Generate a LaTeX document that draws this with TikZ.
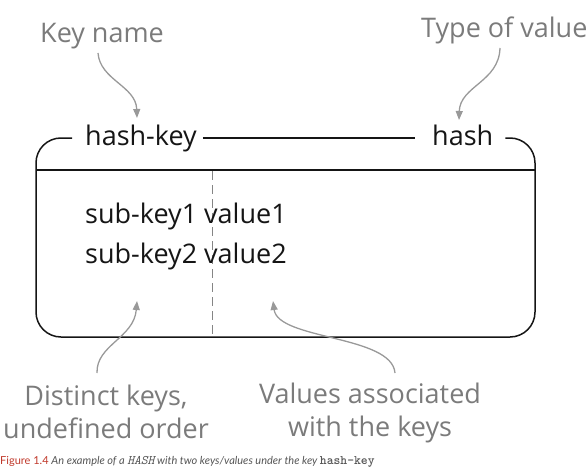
\documentclass[tikz,border=0pt]{standalone}
\usepackage{fontspec}
\setmainfont{Open Sans}
\newfontfamily\lato{Lato}
\usetikzlibrary{arrows.meta}
\definecolor{lbl}{HTML}{7B7B7B}
\definecolor{arr}{HTML}{999999}
\definecolor{ink}{HTML}{151515}
\definecolor{figred}{HTML}{C0392B}
\definecolor{capgray}{HTML}{555555}
\tikzset{
  main/.style={font=\fontsize{27}{33}\selectfont, text=ink, inner sep=0pt},
  note/.style={font=\fontsize{27}{33}\selectfont, text=lbl, inner sep=0pt, align=center},
  boxline/.style={draw=ink, line width=1.5pt},
  pointer/.style={draw=arr, line width=1.3pt, -{Triangle[length=9pt,width=7pt]}},
}
\begin{document}
\begin{tikzpicture}[x=1pt,y=-1pt]
\useasboundingbox (0,0) rectangle (588,468);
% header texts
\node[main, anchor=base west] (hk) at (85,145) {hash-key};
\node[main, anchor=base west] (hs) at (432,145) {hash};
% box
\draw[boxline, rounded corners=25pt] ([xshift=-13pt]hk.west |- 0,138) -- (36,138) -- (36,337) -- (535,337) -- (535,138) -- ([xshift=12pt]hs.east |- 0,138);
\draw[boxline] ([xshift=6pt]hk.east |- 0,138) -- ([xshift=-17pt]hs.west |- 0,138);
\coordinate (dl) at (36,170);
\coordinate (dr) at (535,170);
\draw[boxline, line width=1.3pt] (dl) -- (dr);
\coordinate (vt) at (212.5,171);
\coordinate (vb) at (212.5,336);
\draw[draw=arr!120, line width=1.2pt, dash pattern=on 9pt off 5pt] (vt) -- (vb);
% content
\node[main, anchor=base west] (r1) at (85,223) {sub-key1 value1};
\node[main, anchor=base west] (r2) at (85,263) {sub-key2 value2};
% notes
\node[note, anchor=base west] (kn) at (40,43) {Key name};
\node[note, anchor=base west] (tv) at (421,38) {Type of value};
\node[note, anchor=base] (dk) at (106,438) {Distinct keys,\\undefined order};
\node[note, anchor=base] (va) at (370,436) {Values associated\\with the keys};
% pointers
\coordinate (a1s) at (98,53);   \coordinate (a1e) at (137,118);
\coordinate (a2s) at (500,48);  \coordinate (a2e) at (459,120);
\coordinate (a3s) at (97,373);  \coordinate (a3e) at (137,301);
\coordinate (a4s) at (395,373); \coordinate (a4e) at (273,301);
\draw[pointer] (a1s) .. controls (100,80) and (136,86) .. (a1e);
\draw[pointer] (a2s) .. controls (499,82) and (460,86) .. (a2e);
\draw[pointer] (a3s) .. controls (96,345) and (134,338) .. (a3e);
\draw[pointer] (a4s) .. controls (392,335) and (278,340) .. (a4e);
% caption
\node[inner sep=0pt, anchor=base west, font=\lato\fontsize{11}{12}\selectfont] (cap) at (0,464)
  {{\color{figred}Figure 1.4} {\color{capgray}\itshape An example of a {\ttfamily\fontsize{13}{12}\selectfont HASH} with two keys/values under the key {\ttfamily\upshape\bfseries\fontsize{13}{12}\selectfont hash-key}}};
\end{tikzpicture}
\end{document}
